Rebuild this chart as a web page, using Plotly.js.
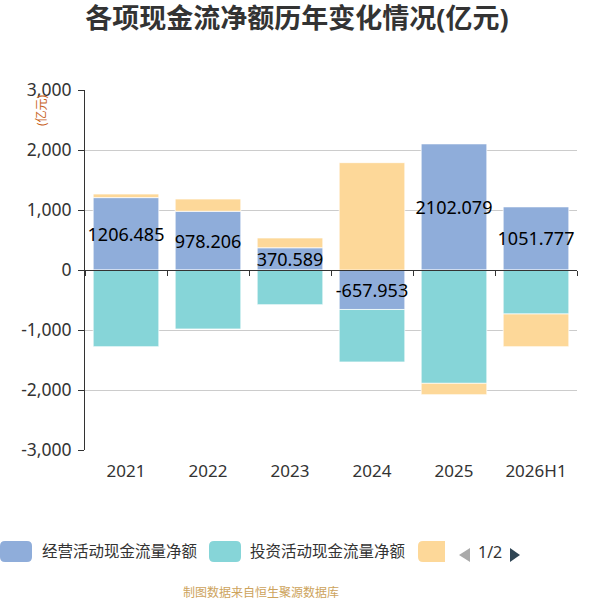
<!DOCTYPE html>
<html>
<head>
<meta charset="utf-8">
<script src="https://cdn.plot.ly/plotly-3.0.1.min.js"></script>
<style>
    body { margin: 0; background: #fff; }
    #chart { width: 600px; height: 600px; }
</style>
</head>
<body>
<div id="chart"></div>
<script>
// data (亿元)
const years = ["2021", "2022", "2023", "2024", "2025", "2026H1"]
const opValues = [1206.485, 978.206, 370.589, -657.953, 2102.079, 1051.777]
const invValues = [-1278, -983, -578, -875, -1889, -733]
const finValues = [60, 205, 163, 1789, -189, -545]

const seriesNames = ["经营活动现金流量净额", "投资活动现金流量净额", "筹资活动现金流量净额"]
const seriesColors = ["#8FADDA", "#86D5D8", "#FDD899"]

const yTickVals = [-3000, -2000, -1000, 0, 1000, 2000, 3000]
const yTickText = ["-3,000", "-2,000", "-1,000", "0", "1,000", "2,000", "3,000"]

const FONT = "Noto Sans, Noto Sans CJK SC, sans-serif"

// plot area in pixels
const L = 85, R = 577, T = 90, B = 450
const px = (x) => (x - L) / (R - L)
const py = (y) => (B - y) / (B - T)

function roundRect(x0, y0, x1, y1, r, roundRight = true) {
    // path in paper coords built from pixel corners
    let rr = roundRight ? r : 0
    let p = "M" + px(x0 + r) + "," + py(y0)
    p += " L" + px(x1 - rr) + "," + py(y0)
    p += " Q" + px(x1) + "," + py(y0) + " " + px(x1) + "," + py(y0 + rr)
    p += " L" + px(x1) + "," + py(y1 - rr)
    p += " Q" + px(x1) + "," + py(y1) + " " + px(x1 - rr) + "," + py(y1)
    p += " L" + px(x0 + r) + "," + py(y1)
    p += " Q" + px(x0) + "," + py(y1) + " " + px(x0) + "," + py(y1 - r)
    p += " L" + px(x0) + "," + py(y0 + r)
    p += " Q" + px(x0) + "," + py(y0) + " " + px(x0 + r) + "," + py(y0) + " Z"
    return p
}

function triangle(pts, color) {
    let p = "M" + pts.map(q => px(q[0]) + "," + py(q[1])).join(" L") + " Z"
    return {type: "path", xref: "paper", yref: "paper", path: p,
        fillcolor: color, line: {width: 0}}
}

const barLine = {color: "rgba(255,255,255,0.7)", width: 1}

const data = [
    {
        type: "bar", name: seriesNames[0], x: years, y: opValues,
        marker: {color: seriesColors[0], line: barLine},
        text: opValues.map(v => v.toFixed(3)),
        textposition: "inside",
        insidetextanchor: "middle",
        textangle: 0,
        constraintext: "none",
        cliponaxis: false,
        textfont: {family: FONT, size: 18, color: "#000"}
    },
    {
        type: "bar", name: seriesNames[1], x: years, y: invValues,
        marker: {color: seriesColors[1], line: barLine}
    },
    {
        type: "bar", name: seriesNames[2], x: years, y: finValues,
        marker: {color: seriesColors[2], line: barLine}
    },
    {
        // carries the zero axis line with its boundary ticks
        type: "scatter", x: years, y: opValues, xaxis: "x2",
        mode: "none", hoverinfo: "skip", showlegend: false
    }
]

const shapes = [
    {type: "path", xref: "paper", yref: "paper", path: roundRect(0, 541, 32, 562, 5), fillcolor: seriesColors[0], line: {width: 0}},
    {type: "path", xref: "paper", yref: "paper", path: roundRect(209, 541, 241, 562, 5), fillcolor: seriesColors[1], line: {width: 0}},
    {type: "path", xref: "paper", yref: "paper", path: roundRect(418, 541, 445, 562, 5, false), fillcolor: seriesColors[2], line: {width: 0}},
    triangle([[459, 555], [470, 548], [470, 562]], "#aaaaaa"),
    triangle([[520, 555], [510, 548], [510, 562]], "#2f4554")
]

const annotations = [
    {xref: "paper", yref: "paper", x: px(40), y: py(551), xanchor: "left", yanchor: "middle",
        text: seriesNames[0], showarrow: false, font: {family: FONT, size: 15.5, color: "#333"}},
    {xref: "paper", yref: "paper", x: px(248), y: py(551), xanchor: "left", yanchor: "middle",
        text: seriesNames[1], showarrow: false, font: {family: FONT, size: 15.5, color: "#333"}},
    {xref: "paper", yref: "paper", x: px(490), y: py(552), xanchor: "center", yanchor: "middle",
        text: "1/2", showarrow: false, font: {family: FONT, size: 16, color: "#333"}},
    {xref: "paper", yref: "paper", x: px(261), y: py(592), xanchor: "center", yanchor: "middle",
        text: "制图数据来自恒生聚源数据库", showarrow: false, font: {family: FONT, size: 12, color: "#cda35c"}},
    {xref: "paper", yref: "paper", x: px(41), y: py(110), xanchor: "center", yanchor: "middle",
        text: "(亿元)", textangle: -90, showarrow: false, font: {family: FONT, size: 12, color: "#c8641e"}}
]

const layout = {
    width: 600,
    height: 600,
    margin: {l: L, r: 600 - R, t: T, b: 600 - B, pad: 0},
    paper_bgcolor: "#fff",
    plot_bgcolor: "#fff",
    font: {family: FONT, color: "#333"},
    title: {
        text: "各项现金流净额历年变化情况(亿元)",
        x: 0.495, xanchor: "center",
        y: 1 - 19 / 600, yanchor: "middle",
        font: {family: FONT, size: 27, weight: "bold", color: "#333"}
    },
    barmode: "relative",
    bargap: 0.2,
    showlegend: false,
    xaxis: {
        type: "category",
        showline: false,
        showgrid: false,
        ticks: "",
        ticklabelstandoff: 9,
        tickfont: {size: 17, color: "#333"}
    },
    xaxis2: {
        type: "category",
        overlaying: "x",
        matches: "x",
        anchor: "free",
        position: 0.5,
        side: "bottom",
        showline: true,
        linecolor: "#333",
        linewidth: 1,
        showgrid: false,
        ticks: "outside",
        tickson: "boundaries",
        ticklen: 5,
        tickcolor: "#333",
        showticklabels: false
    },
    yaxis: {
        range: [-3000, 3000],
        tickvals: yTickVals,
        ticktext: yTickText,
        showline: true,
        linecolor: "#333",
        linewidth: 1,
        ticks: "outside",
        ticklen: 6,
        tickcolor: "#333",
        ticklabelstandoff: 3,
        gridcolor: "#cccccc",
        zeroline: false,
        tickfont: {size: 17.5, color: "#333"}
    },
    shapes: shapes,
    annotations: annotations
}

Plotly.newPlot("chart", data, layout, {displayModeBar: false, staticPlot: true})
</script>
</body>
</html>
